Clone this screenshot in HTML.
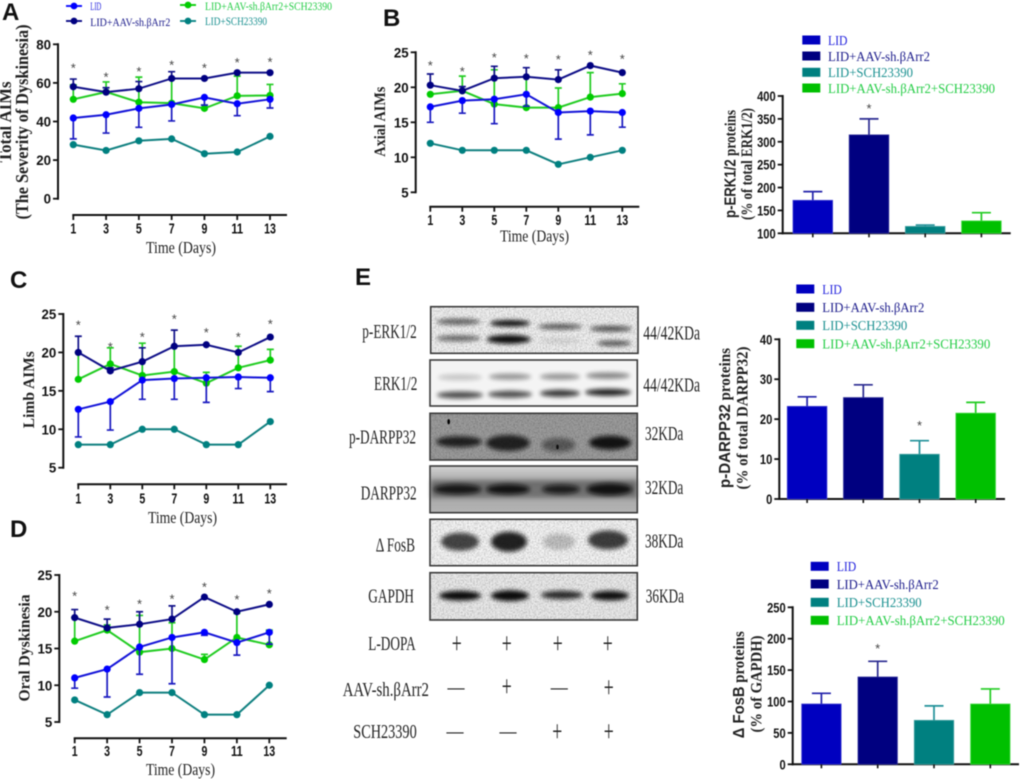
<!DOCTYPE html>
<html lang="en">
<head>
<meta charset="utf-8">
<title>Dyskinesia figure</title>
<style>
html,body{margin:0;padding:0;background:#fff;overflow:hidden;}
svg{display:block;filter:blur(0.45px);}
.serif{font-family:"Liberation Serif",serif;}
.sans{font-family:"Liberation Sans",sans-serif;}
.letter{font-family:"Liberation Sans",sans-serif;font-weight:bold;font-size:24px;fill:#111;}
.ytitle{font-family:"Liberation Serif",serif;font-weight:bold;fill:#222;}
.xtitle{font-family:"Liberation Serif",serif;font-size:17px;fill:#222;}
.blab{font-family:"Liberation Serif",serif;font-size:19.5px;fill:#222;}
.frame{fill:none;stroke:#3a3a3a;stroke-width:1.6;}
.band{fill:#0a0a0a;filter:url(#soft);}
.grain{fill:#000;filter:url(#grain);opacity:.32;}
.sign{font-family:"Liberation Serif",serif;fill:#222;text-anchor:middle;}
.dash{font-weight:bold;}
</style>
</head>
<body>
<svg id="fig" xmlns="http://www.w3.org/2000/svg" width="1020" height="779" viewBox="0 0 1020 779">
<defs>
<filter id="soft" x="-40%" y="-150%" width="180%" height="400%"><feGaussianBlur stdDeviation="2"/></filter>
<filter id="grain" x="0" y="0" width="100%" height="100%"><feTurbulence type="fractalNoise" baseFrequency="0.65" numOctaves="2" seed="4"/><feColorMatrix type="matrix" values="0 0 0 0 0  0 0 0 0 0  0 0 0 0 0  1.4 0 0 0 -0.5"/></filter>
<linearGradient id="darppBg" x1="0" y1="0" x2="0" y2="1"><stop offset="0" stop-color="#d2d2d2"/><stop offset="0.4" stop-color="#a0a0a0"/><stop offset="1" stop-color="#b4b4b4"/></linearGradient>
</defs>

<!-- panel letters -->
<text class="letter" x="2" y="20">A</text>
<text class="letter" x="383" y="26">B</text>
<text class="letter" x="10" y="288">C</text>
<text class="letter" x="10" y="537">D</text>
<text class="letter" x="355" y="285">E</text>

<!-- panel A legend -->
<g class="serif" font-size="11.5">
<g><line x1="66" y1="6" x2="82" y2="6" stroke="#0000ff" stroke-width="1.8"/><circle cx="74" cy="6" r="3.4" fill="#0000ff"/><text x="90.3" y="10" fill="#2222dd" textLength="11" lengthAdjust="spacingAndGlyphs">LID</text></g>
<g><line x1="66" y1="21" x2="82" y2="21" stroke="#000080" stroke-width="1.8"/><circle cx="74" cy="21" r="3.4" fill="#000080"/><text x="90.3" y="26" fill="#1a1a8a" textLength="80" lengthAdjust="spacingAndGlyphs">LID+AAV-sh.βArr2</text></g>
<g><line x1="180" y1="5" x2="196" y2="5" stroke="#00cc00" stroke-width="1.8"/><circle cx="188" cy="5" r="3.4" fill="#00cc00"/><text x="205" y="10" fill="#22cc44" textLength="127" lengthAdjust="spacingAndGlyphs">LID+AAV-sh.βArr2+SCH23390</text></g>
<g><line x1="180" y1="21" x2="196" y2="21" stroke="#008080" stroke-width="1.8"/><circle cx="188" cy="21" r="3.4" fill="#008080"/><text x="205" y="25" fill="#1a9090" textLength="62" lengthAdjust="spacingAndGlyphs">LID+SCH23390</text></g>
</g>

<!-- axis titles line panels -->
<text class="ytitle" font-size="17.5" text-anchor="middle" transform="translate(11,122) rotate(-90)" textLength="81" lengthAdjust="spacingAndGlyphs">Total AIMs</text>
<text class="ytitle" font-size="17.5" text-anchor="middle" transform="translate(28,122) rotate(-90)" textLength="195" lengthAdjust="spacingAndGlyphs">(The Severity of Dyskinesia)</text>
<text class="xtitle" x="181" y="253" text-anchor="middle" textLength="70" lengthAdjust="spacingAndGlyphs">Time (Days)</text>
<text class="ytitle" font-size="15.5" text-anchor="middle" transform="translate(385,121.7) rotate(-90)" textLength="70" lengthAdjust="spacingAndGlyphs">Axial AIMs</text>
<text class="xtitle" x="534.5" y="241.5" text-anchor="middle" textLength="69" lengthAdjust="spacingAndGlyphs">Time (Days)</text>
<text class="ytitle" font-size="16" text-anchor="middle" transform="translate(34,389.7) rotate(-90)" textLength="77" lengthAdjust="spacingAndGlyphs">Limb AIMs</text>
<text class="xtitle" x="182.5" y="523" text-anchor="middle" textLength="69" lengthAdjust="spacingAndGlyphs">Time (Days)</text>
<text class="ytitle" font-size="16" text-anchor="middle" transform="translate(29.5,648) rotate(-90)" textLength="107" lengthAdjust="spacingAndGlyphs">Oral Dyskinesia</text>
<text class="xtitle" x="180.5" y="775" text-anchor="middle" textLength="69" lengthAdjust="spacingAndGlyphs">Time (Days)</text>

<!-- bar panel titles -->
<text class="ytitle" font-size="15.5" text-anchor="middle" transform="translate(735.5,164) rotate(-90)" textLength="108" lengthAdjust="spacingAndGlyphs"><tspan class="sans">p-ERK1/2</tspan> proteins</text>
<text class="ytitle" font-size="15.5" text-anchor="middle" transform="translate(752,164) rotate(-90)" textLength="112" lengthAdjust="spacingAndGlyphs">(% of total ERK1/2)</text>
<text class="ytitle" font-size="15.5" text-anchor="middle" transform="translate(730,418) rotate(-90)" textLength="140" lengthAdjust="spacingAndGlyphs"><tspan class="sans">p-DARPP32</tspan> proteins</text>
<text class="ytitle" font-size="15.5" text-anchor="middle" transform="translate(747.5,418) rotate(-90)" textLength="143" lengthAdjust="spacingAndGlyphs">(% of total DARPP32)</text>
<text class="ytitle" font-size="15.5" text-anchor="middle" transform="translate(744,684.7) rotate(-90)" textLength="107" lengthAdjust="spacingAndGlyphs"><tspan class="sans">Δ FosB</tspan> proteins</text>
<text class="ytitle" font-size="15.5" text-anchor="middle" transform="translate(761.5,684) rotate(-90)" textLength="97" lengthAdjust="spacingAndGlyphs">(% of GAPDH)</text>

<!-- bar legends -->
<g class="serif" font-size="14">
<rect x="802.3" y="35.5" width="18" height="9" fill="#0000c0"/><text x="828" y="44.8" fill="#2222dd" textLength="19.5" lengthAdjust="spacingAndGlyphs">LID</text>
<rect x="802.3" y="51.5" width="18" height="9" fill="#000080"/><text x="828" y="60.8" fill="#1a1a8a" textLength="102" lengthAdjust="spacingAndGlyphs">LID+AAV-sh.βArr2</text>
<rect x="802.3" y="67.8" width="18" height="9" fill="#008080"/><text x="828" y="77" fill="#1a9090" textLength="85" lengthAdjust="spacingAndGlyphs">LID+SCH23390</text>
<rect x="802.3" y="83.5" width="18" height="9" fill="#00c000"/><text x="828" y="92.8" fill="#22cc44" textLength="167" lengthAdjust="spacingAndGlyphs">LID+AAV-sh.βArr2+SCH23390</text>
</g>
<g class="serif" font-size="14">
<rect x="796.3" y="284.5" width="18" height="9" fill="#0000c0"/><text x="822.3" y="293.8" fill="#2222dd" textLength="19.5" lengthAdjust="spacingAndGlyphs">LID</text>
<rect x="796.3" y="302.8" width="18" height="9" fill="#000080"/><text x="822.3" y="312" fill="#1a1a8a" textLength="102" lengthAdjust="spacingAndGlyphs">LID+AAV-sh.βArr2</text>
<rect x="796.3" y="320.8" width="18" height="9" fill="#008080"/><text x="822.3" y="330" fill="#1a9090" textLength="85" lengthAdjust="spacingAndGlyphs">LID+SCH23390</text>
<rect x="796.3" y="339.2" width="18" height="9" fill="#00c000"/><text x="822.3" y="348.5" fill="#22cc44" textLength="168" lengthAdjust="spacingAndGlyphs">LID+AAV-sh.βArr2+SCH23390</text>
</g>
<g class="serif" font-size="14">
<rect x="810.7" y="561.8" width="18" height="9" fill="#0000c0"/><text x="836.7" y="571" fill="#2222dd" textLength="19.5" lengthAdjust="spacingAndGlyphs">LID</text>
<rect x="810.7" y="579.5" width="18" height="9" fill="#000080"/><text x="836.7" y="588.8" fill="#1a1a8a" textLength="102" lengthAdjust="spacingAndGlyphs">LID+AAV-sh.βArr2</text>
<rect x="810.7" y="597.8" width="18" height="9" fill="#008080"/><text x="836.7" y="607" fill="#1a9090" textLength="85" lengthAdjust="spacingAndGlyphs">LID+SCH23390</text>
<rect x="810.7" y="615.8" width="18" height="9" fill="#00c000"/><text x="836.7" y="625" fill="#22cc44" textLength="168" lengthAdjust="spacingAndGlyphs">LID+AAV-sh.βArr2+SCH23390</text>
</g>

<!-- western blots -->
<g>
<rect x="430.7" y="306.7" width="207.3" height="46.6" fill="#f2f2f2"/>
<ellipse class="band" cx="458.3" cy="321.7" rx="22" ry="3" opacity=".62"/>
<ellipse class="band" cx="458.3" cy="338.3" rx="22" ry="3" opacity=".58"/>
<ellipse class="band" cx="510" cy="323.3" rx="20" ry="3.2" opacity="1"/>
<ellipse class="band" cx="508.7" cy="339.3" rx="22" ry="4.4" opacity="1"/>
<ellipse class="band" cx="560" cy="326.7" rx="22" ry="2.8" opacity=".66"/>
<ellipse class="band" cx="560" cy="341" rx="20" ry="2.4" opacity=".12"/>
<ellipse class="band" cx="610.8" cy="328.7" rx="21" ry="2.8" opacity=".72"/>
<ellipse class="band" cx="614" cy="343.3" rx="17" ry="2.6" opacity=".7"/>
<rect class="grain" x="430.7" y="306.7" width="207.3" height="46.6"/>
<rect class="frame" x="430.7" y="306.7" width="207.3" height="46.6"/>
</g>
<g>
<rect x="430" y="360" width="207.3" height="46" fill="#f4f4f4"/>
<ellipse class="band" cx="460" cy="377.3" rx="22" ry="3" opacity=".2"/>
<ellipse class="band" cx="460" cy="395" rx="23" ry="3.5" opacity=".72"/>
<ellipse class="band" cx="510" cy="376.7" rx="21" ry="3" opacity=".42"/>
<ellipse class="band" cx="510" cy="394.3" rx="22" ry="3.5" opacity=".72"/>
<ellipse class="band" cx="560" cy="376.7" rx="20" ry="3" opacity=".42"/>
<ellipse class="band" cx="560" cy="393.3" rx="20" ry="3.5" opacity=".82"/>
<ellipse class="band" cx="608" cy="375.7" rx="22" ry="3.2" opacity=".48"/>
<ellipse class="band" cx="608" cy="392.3" rx="23" ry="3.4" opacity=".92"/>
<rect class="frame" x="430" y="360" width="207.3" height="46"/>
</g>
<g>
<rect x="430" y="413.3" width="207.3" height="46.7" fill="#9d9d9d"/>
<ellipse class="band" cx="459" cy="441.7" rx="23" ry="5.5" opacity=".85"/>
<ellipse class="band" cx="508" cy="443" rx="22" ry="8" opacity=".85"/>
<ellipse class="band" cx="558.5" cy="445" rx="17" ry="7" opacity=".45"/>
<ellipse class="band" cx="610" cy="442.7" rx="21" ry="7" opacity=".95"/>
<ellipse cx="448.7" cy="421.7" rx="1.3" ry="2.6" fill="#000"/>
<ellipse cx="557.5" cy="447" rx="1.3" ry="2.4" fill="#111"/>
<rect class="grain" x="430" y="413.3" width="207.3" height="46.7"/>
<rect class="frame" x="430" y="413.3" width="207.3" height="46.7"/>
</g>
<g>
<rect x="430" y="466" width="207.3" height="46.7" fill="url(#darppBg)"/>
<rect x="431" y="480" width="206" height="18" fill="#333" opacity=".45" filter="url(#soft)"/>
<ellipse class="band" cx="457.5" cy="489.3" rx="24" ry="5" opacity=".9"/>
<ellipse class="band" cx="508" cy="489.3" rx="22" ry="5" opacity=".95"/>
<ellipse class="band" cx="561" cy="489.3" rx="19" ry="4.5" opacity=".85"/>
<ellipse class="band" cx="609.5" cy="489.3" rx="23" ry="6" opacity=".95"/>
<rect class="frame" x="430" y="466" width="207.3" height="46.7"/>
</g>
<g>
<rect x="430" y="519.3" width="207.3" height="46.4" fill="#f6f6f6"/>
<ellipse class="band" cx="460" cy="541.7" rx="19" ry="9" opacity=".75"/>
<ellipse class="band" cx="509" cy="541.7" rx="18" ry="10" opacity=".9"/>
<ellipse class="band" cx="559" cy="541.7" rx="16" ry="8" opacity=".22"/>
<ellipse class="band" cx="608" cy="540" rx="20" ry="9.5" opacity=".78"/>
<rect class="grain" x="430" y="519.3" width="207.3" height="46.4"/>
<rect class="frame" x="430" y="519.3" width="207.3" height="46.4"/>
</g>
<g>
<rect x="430" y="572.7" width="207.3" height="47.3" fill="#ececec"/>
<ellipse class="band" cx="460" cy="595.7" rx="21" ry="4.8" opacity="1"/>
<ellipse class="band" cx="510" cy="595.7" rx="19" ry="5.4" opacity="1"/>
<ellipse class="band" cx="562" cy="595" rx="21" ry="4.2" opacity=".85"/>
<ellipse class="band" cx="610" cy="595.7" rx="19" ry="4.8" opacity=".98"/>
<rect class="grain" x="430" y="572.7" width="207.3" height="47.3"/>
<rect class="frame" x="430" y="572.7" width="207.3" height="47.3"/>
</g>

<!-- blot labels -->
<text class="blab" x="362.3" y="338" textLength="54.4" lengthAdjust="spacingAndGlyphs">p-ERK1/2</text>
<text class="blab" x="374" y="390" textLength="43.3" lengthAdjust="spacingAndGlyphs">ERK1/2</text>
<text class="blab" x="349" y="443.3" textLength="67" lengthAdjust="spacingAndGlyphs">p-DARPP32</text>
<text class="blab" x="360.7" y="499.5" textLength="56" lengthAdjust="spacingAndGlyphs">DARPP32</text>
<text class="blab" x="375.7" y="551.7" textLength="39.3" lengthAdjust="spacingAndGlyphs">Δ FosB</text>
<text class="blab" x="368.3" y="602.7" textLength="45.7" lengthAdjust="spacingAndGlyphs">GAPDH</text>
<text class="blab" x="368.3" y="650" textLength="47.4" lengthAdjust="spacingAndGlyphs">L-DOPA</text>
<text class="blab" x="342.7" y="696" textLength="86.3" lengthAdjust="spacingAndGlyphs">AAV-sh.βArr2</text>
<text class="blab" x="353.3" y="738" textLength="63.4" lengthAdjust="spacingAndGlyphs">SCH23390</text>
<text class="blab" x="643.3" y="339.3" textLength="56.7" lengthAdjust="spacingAndGlyphs">44/42KDa</text>
<text class="blab" x="643.3" y="391.7" textLength="56.7" lengthAdjust="spacingAndGlyphs">44/42KDa</text>
<text class="blab" x="645" y="440" textLength="38.3" lengthAdjust="spacingAndGlyphs">32KDa</text>
<text class="blab" x="645" y="494" textLength="38.3" lengthAdjust="spacingAndGlyphs">32KDa</text>
<text class="blab" x="645" y="547.7" textLength="38.3" lengthAdjust="spacingAndGlyphs">38KDa</text>
<text class="blab" x="645.7" y="602.7" textLength="38.3" lengthAdjust="spacingAndGlyphs">36KDa</text>

<!-- treatment signs -->
<g font-size="30">
<text class="sign" x="456.7" y="653" textLength="10" lengthAdjust="spacingAndGlyphs">+</text>
<text class="sign" x="506.7" y="653" textLength="10" lengthAdjust="spacingAndGlyphs">+</text>
<text class="sign" x="557.7" y="653" textLength="10" lengthAdjust="spacingAndGlyphs">+</text>
<text class="sign" x="607.7" y="653" textLength="10" lengthAdjust="spacingAndGlyphs">+</text>
<text class="sign dash" x="456" y="693" font-size="17">—</text>
<text class="sign" x="506.7" y="696" textLength="10" lengthAdjust="spacingAndGlyphs">+</text>
<text class="sign dash" x="559.3" y="693" font-size="17">—</text>
<text class="sign" x="608.7" y="697" textLength="10" lengthAdjust="spacingAndGlyphs">+</text>
<text class="sign dash" x="455" y="737" font-size="17">—</text>
<text class="sign dash" x="508" y="737" font-size="17">—</text>
<text class="sign" x="557.3" y="741" textLength="10" lengthAdjust="spacingAndGlyphs">+</text>
<text class="sign" x="608.7" y="741" textLength="10" lengthAdjust="spacingAndGlyphs">+</text>
</g>
</svg>

<script>
// ---------- shared ticks ----------
const days = [1, 3, 5, 7, 9, 11, 13];
const tickLabelsA = [0, 20, 40, 60, 80];
const tickLabelsBCD = [5, 10, 15, 20, 25];
const tickLabelsErk = [100, 150, 200, 250, 300, 350, 400];
const tickLabelsDarpp = [0, 10, 20, 30, 40];
const tickLabelsFosb = [0, 50, 100, 150, 200, 250];

// ---------- panel A: Total AIMs ----------
const aLid = [41.8, 43.5, 46.8, 48.8, 52.5, 49.2, 51.5];
const aLidErr = [10.8, 9.5, 9.8, 8.5, 4, 6.2, 4.5];
const aAav = [58, 55.2, 57, 62.3, 62.3, 65.3, 65.3];
const aAavErr = [4, 2.3, 3.7, 3.5, 0, 0, 0];
const aCombo = [51.5, 55.3, 50, 49.5, 46.8, 53.3, 53.5];
const aComboErr = [7.5, 5.2, 13, 12.5, 1.7, 10.2, 5.7];
const aSch = [28, 25, 30, 31, 23.3, 24.2, 32.3];
const aStars = [68.9, 64.3, 67.2, 70.6, 68.9, 71.9, 72];

// ---------- panel B: Axial AIMs ----------
const bLid = [17.2, 18.1, 18.3, 19, 16.4, 16.6, 16.4];
const bLidErr = [2.2, 1.8, 3.5, 1.7, 3.8, 3.4, 2.1];
const bAav = [20.3, 19.5, 21.3, 21.5, 21.1, 23.1, 22.1];
const bAavErr = [1.6, 0.6, 1.7, 1.3, 1.4, 0, 0];
const bCombo = [19, 19.5, 17.6, 17.1, 17.1, 18.6, 19.1];
const bComboErr = [0, 2.1, 4.9, 4.4, 2.8, 3.5, 1.4];
const bSch = [12, 11, 11, 11, 9, 10, 11];
const bStars = [23.5, 22.6, 24.6, 24.5, 24.3, 25, 24.4];

// ---------- panel C: Limb AIMs ----------
const cLid = [12.6, 13.6, 16.4, 16.6, 16.7, 16.8, 16.7];
const cLidErr = [3.6, 3.7, 2.5, 2.7, 3.2, 1.5, 1.8];
const cAav = [20, 17.6, 18.8, 20.8, 21, 20, 22];
const cAavErr = [2.1, 0.4, 1.8, 2.1, 0, 0, 0];
const cCombo = [16.5, 18.5, 17, 17.5, 16, 18, 19];
const cComboErr = [3.5, 2.1, 4.2, 3.3, 1.4, 2.8, 1.4];
const cSch = [8, 8, 10, 10, 8, 8, 11];
const cStars = [23.9, 21, 22.35, 24.65, 22.9, 22.35, 24];

// ---------- panel D: Oral Dyskinesia ----------
const dLid = [11, 12.2, 15.2, 16.5, 17.2, 15.8, 17.2];
const dLidErr = [1.4, 3.8, 3.7, 6.3, 0.4, 1.7, 1.6];
const dAav = [19.2, 17.8, 18.3, 19, 22, 20, 21];
const dAavErr = [1.1, 1.2, 1.7, 1.8, 0, 0, 0];
const dCombo = [16, 17.5, 14.5, 15, 13.5, 16.5, 15.5];
const dComboErr = [3.2, 0.7, 5, 3.5, 0.7, 3.3, 2];
const dSch = [8, 6, 9, 9, 6, 6, 10];
const dStars = [22.5, 20.6, 21.4, 22.1, 23.7, 22, 22.8];

// ---------- bar panels (order: LID, AAV, SCH, AAV+SCH) ----------
const erkValues = [172, 315, 115, 127];
const erkErrors = [19, 35, 3, 18];
const erkStarValues = [null, 378, null, null];
const darppValues = [23.2, 25.4, 11.2, 21.5];
const darppErrors = [2.4, 3.2, 3.4, 2.7];
const darppStarValues = [null, null, 19, null];
const fosbValues = [96, 139, 70, 96];
const fosbErrors = [17, 25, 23, 24];
const fosbStarValues = [null, 188, null, null];

// ---------- helpers ----------
const NS = 'http://www.w3.org/2000/svg';
const fig = document.getElementById('fig');
function mk(tag, attrs, parent) {
  const el = document.createElementNS(NS, tag);
  for (const k in attrs) el.setAttribute(k, attrs[k]);
  parent.appendChild(el);
  return el;
}
function scale(v0, v1, p0, p1) {
  return v => p0 + (v - v0) * (p1 - p0) / (v1 - v0);
}
function star(x, y, parent, prefix) {
  const s = mk('text', {x: x, y: y + 7, 'text-anchor': 'middle', fill: '#444', 'font-size': 13, 'font-family': '"Liberation Sans",sans-serif'}, parent);
  
  
  s.textContent = '*';
}
function yAxis(parent, prefix, axisX, labels, yFn, labelWidth) {
  const top = yFn(labels[labels.length - 1]);
  const bottom = yFn(labels[0]);
  const ax = mk('line', {x1: axisX, x2: axisX, y1: top - 1, y2: bottom + 1, stroke: '#111', 'stroke-width': 2}, parent);
  
  
  labels.forEach(v => {
    const t = mk('line', {x1: axisX - 5, x2: axisX, y1: yFn(v), y2: yFn(v), stroke: '#111', 'stroke-width': 1.8}, parent);
    
    
    const s = String(v);
    const l = mk('text', {x: axisX - 7, y: yFn(v) + 5, 'text-anchor': 'end', 'font-size': 14, 'font-weight': 'bold', fill: '#111', 'font-family': '"Liberation Sans",sans-serif', textLength: s.length * labelWidth, lengthAdjust: 'spacingAndGlyphs'}, parent);
    
    
    l.textContent = s;
  });
}

// ---------- line panels ----------
const seriesStyle = {
  combo: {fill: '#00cc00', line: '#22cc22', err: '#22cc22', name: 'lid-aav-sch'},
  sch: {fill: '#008080', line: '#108080', err: '#108080', name: 'lid-sch'},
  lid: {fill: '#0000ff', line: '#1414d8', err: '#1a1ac0', name: 'lid'},
  aav: {fill: '#000080', line: '#101088', err: '#101088', name: 'lid-aav'}
};
function lineSeries(g, prefix, key, vals, errs, dir, x, y) {
  const st = seriesStyle[key];
  const sg = mk('g', {}, g);
  
  
  if (errs) {
    vals.forEach((v, i) => {
      if (!errs[i]) return;
      const end = y(v + dir * errs[i]);
      const px = x(days[i]);
      const e = mk('path', {d: 'M' + px + ' ' + y(v) + 'V' + end + 'M' + (px - 3.5) + ' ' + end + 'H' + (px + 3.5), stroke: st.err, 'stroke-width': 1.7, fill: 'none'}, sg);
      
      
    });
  }
  const pts = vals.map((v, i) => x(days[i]) + ',' + y(v)).join(' ');
  const l = mk('polyline', {points: pts, fill: 'none', stroke: st.line, 'stroke-width': 2}, sg);
  
  
  vals.forEach((v, i) => {
    const c = mk('circle', {cx: x(days[i]), cy: y(v), r: 3.6, fill: st.fill}, sg);
    
    
  });
}
function linePanel(prefix, geo, yTicks, lid, lidErr, aav, aavErr, combo, comboErr, sch, stars) {
  const g = mk('g', {}, fig);
  
  
  const x = scale(days[0], days[days.length - 1], geo.x0, geo.x1);
  const y = scale(yTicks[0], yTicks[yTicks.length - 1], geo.yBottom, geo.yTop);
  yAxis(g, prefix, geo.axisX, yTicks, y, 7.4);
  const xa = mk('line', {x1: geo.x0 - 1, x2: geo.xEnd, y1: geo.xAxisY, y2: geo.xAxisY, stroke: '#111', 'stroke-width': 2}, g);
  
  
  days.forEach(d => {
    const t = mk('line', {x1: x(d), x2: x(d), y1: geo.xAxisY, y2: geo.xAxisY + 5, stroke: '#111', 'stroke-width': 1.8}, g);
    
    
    const s = String(d);
    const l = mk('text', {x: x(d), y: geo.labelY, 'text-anchor': 'middle', 'font-size': 14.5, 'font-weight': 'bold', fill: '#111', 'font-family': '"Liberation Sans",sans-serif', textLength: s.length * 5.9, lengthAdjust: 'spacingAndGlyphs'}, g);
    
    
    l.textContent = s;
  });
  lineSeries(g, prefix, 'combo', combo, comboErr, 1, x, y);
  lineSeries(g, prefix, 'sch', sch, null, 1, x, y);
  lineSeries(g, prefix, 'lid', lid, lidErr, -1, x, y);
  lineSeries(g, prefix, 'aav', aav, aavErr, 1, x, y);
  stars.forEach((v, i) => star(x(days[i]), y(v), g, prefix));
}
linePanel('panel-a', {axisX: 58, x0: 73.3, x1: 270, xEnd: 287, xAxisY: 215, yTop: 44.3, yBottom: 198.7, labelY: 233.5}, tickLabelsA, aLid, aLidErr, aAav, aAavErr, aCombo, aComboErr, aSch, aStars);
linePanel('panel-b', {axisX: 415.7, x0: 430.3, x1: 622.3, xEnd: 639.3, xAxisY: 206.7, yTop: 52.3, yBottom: 192.3, labelY: 225}, tickLabelsBCD, bLid, bLidErr, bAav, bAavErr, bCombo, bComboErr, bSch, bStars);
linePanel('panel-c', {axisX: 63.3, x0: 78.3, x1: 270.3, xEnd: 287, xAxisY: 484.3, yTop: 314, yBottom: 467.7, labelY: 503.5}, tickLabelsBCD, cLid, cLidErr, cAav, cAavErr, cCombo, cComboErr, cSch, cStars);
linePanel('panel-d', {axisX: 59.3, x0: 74.7, x1: 269.3, xEnd: 286.7, xAxisY: 738.3, yTop: 575, yBottom: 722, labelY: 756}, tickLabelsBCD, dLid, dLidErr, dAav, dAavErr, dCombo, dComboErr, dSch, dStars);

// ---------- bar panels ----------
const barFills = ['#0000c0', '#000080', '#008080', '#00c000'];
const barEdges = ['#3a3ad0', '#30309a', '#40a0a0', '#40d840'];
const barErrs = ['#2222aa', '#2a2a90', '#209098', '#22cc22'];
const barNames = ['lid', 'lid-aav', 'lid-sch', 'lid-aav-sch'];
function barPanel(prefix, geo, yTicks, values, errors, stars) {
  const g = mk('g', {}, fig);
  
  
  const y = scale(yTicks[0], yTicks[yTicks.length - 1], geo.yBottom, geo.yTop);
  yAxis(g, prefix, geo.axisX, yTicks, y, 6.2);
  const xa = mk('line', {x1: geo.axisX - 1, x2: geo.xEnd, y1: geo.yBottom, y2: geo.yBottom, stroke: '#111', 'stroke-width': 2}, g);
  
  
  const barX = i => geo.firstBar + i * geo.step;
  values.forEach((v, i) => {
    const px = barX(i) + geo.barW / 2;
    const top = y(v + errors[i]);
    const e = mk('path', {d: 'M' + px + ' ' + y(v) + 'V' + top + 'M' + (px - 9.5) + ' ' + top + 'H' + (px + 9.5), stroke: barErrs[i], 'stroke-width': 1.7, fill: 'none'}, g);
    
    
    const r = mk('rect', {x: barX(i), y: y(v), width: geo.barW, height: geo.yBottom - y(v), fill: barFills[i], stroke: barEdges[i], 'stroke-width': 0.8}, g);
    
    
    const t = mk('line', {x1: px, x2: px, y1: geo.yBottom, y2: geo.yBottom + 4, stroke: '#111', 'stroke-width': 1.6}, g);
    
    
    if (stars[i] !== null) star(px, y(stars[i]), g, prefix);
  });
}
barPanel('erk', {axisX: 782.7, yTop: 96, yBottom: 233.3, xEnd: 1010.7, firstBar: 793, step: 56.2, barW: 39.6}, tickLabelsErk, erkValues, erkErrors, erkStarValues);
barPanel('darpp', {axisX: 779.3, yTop: 339.3, yBottom: 499, xEnd: 1005, firstBar: 787.3, step: 56.2, barW: 39.6}, tickLabelsDarpp, darppValues, darppErrors, darppStarValues);
barPanel('fosb', {axisX: 792.7, yTop: 607.3, yBottom: 764.3, xEnd: 1019, firstBar: 801.7, step: 56.3, barW: 39.4}, tickLabelsFosb, fosbValues, fosbErrors, fosbStarValues);
</script>
</body>
</html>
